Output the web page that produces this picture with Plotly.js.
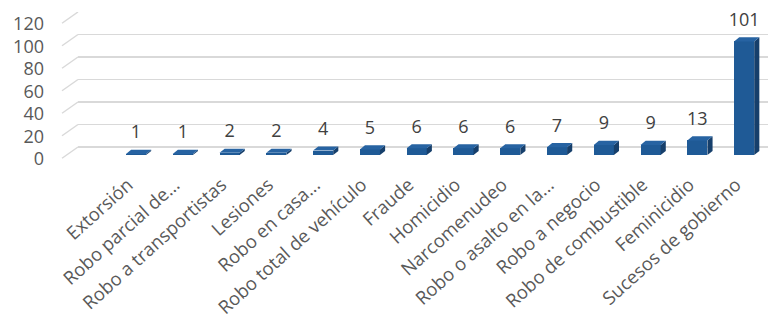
<!DOCTYPE html>
<html>
<head>
<meta charset="utf-8">
<script src="https://cdn.plot.ly/plotly-3.0.1.min.js"></script>
<style>html,body{margin:0;padding:0;background:#fff;}#chart{width:768px;height:322px;}</style>
</head>
<body>
<div id="chart"></div>
<script>
const categories = ["Extorsión","Robo parcial de...","Robo a transportistas","Lesiones","Robo en casa...","Robo total de vehículo","Fraude","Homicidio","Narcomenudeo","Robo o asalto en la...","Robo a negocio","Robo de combustible","Feminicidio","Sucesos de gobierno"];
const values = [1,1,2,2,4,5,6,6,6,7,9,9,13,101];
const yTicks = [0,20,40,60,80,100,120];

const W = 768, H = 322;
const FRONT = '#1F5A96', SIDE = '#163F6B', TOP = '#2763A2';
const GRID = '#D9D9D9';
const FONT = 'Open Sans, sans-serif';
const xs = categories.map((c, i) => i);
const bw = 0.43;          // bar width in category units
const ddx = 0.11, ddy = 3.6; // 3D depth offsets (data units)
const wallDepth = 10;     // slanted wall line drop (data units)

const shapes = [];
// slanted left-wall lines
yTicks.forEach(v => {
  shapes.push({type:'line', xref:'paper', yref:'y', x0:62/W, x1:78/W, y0:v - wallDepth, y1:v,
    line:{color:GRID, width:1.5}, layer:'below'});
});
// 3D faces of each bar
xs.forEach((x, i) => {
  const v = values[i];
  const l = x - bw/2, r = x + bw/2;
  shapes.push({type:'path', xref:'x', yref:'y2', layer:'above', line:{width:0}, fillcolor:SIDE,
    path:`M${r},0 L${r+ddx},${ddy} L${r+ddx},${v+ddy} L${r},${v} Z`});
  shapes.push({type:'path', xref:'x', yref:'y2', layer:'above', line:{width:0}, fillcolor:TOP,
    path:`M${l},${v} L${l+ddx},${v+ddy} L${r+ddx},${v+ddy} L${r},${v} Z`});
});

const traces = [
  {type:'bar', x:xs, y:values, xaxis:'x', yaxis:'y2', width:bw,
   marker:{color:FRONT, line:{width:0}}, hoverinfo:'skip'},
  {type:'scatter', mode:'markers+text', x:xs, y:values, xaxis:'x', yaxis:'y2',
   text:values.map(String), textposition:'top center',
   marker:{size:16, opacity:0}, textfont:{family:FONT, size:18, color:'#404040'},
   hoverinfo:'skip', cliponaxis:false}
];

const layout = {
  width:W, height:H, margin:{l:0, r:0, t:0, b:0},
  paper_bgcolor:'#fff', plot_bgcolor:'rgba(0,0,0,0)',
  showlegend:false, bargap:0,
  font:{family:FONT, size:18, color:'#595959'},
  xaxis:{domain:[78/W, 1], range:[-1.24, 13.51], anchor:'y',
    tickmode:'array', tickvals:xs, ticktext:categories, tickangle:-42,
    showgrid:false, zeroline:false, showline:false, ticks:'',
    ticklabelstandoff:9, ticklabelshift:-8,
    tickfont:{family:FONT, size:18.5, color:'#595959'}},
  yaxis:{domain:[1 - 160.5/H, 1 - 12/H], range:[-12, 120], anchor:'x',
    tickmode:'array', tickvals:yTicks, showticklabels:false,
    showgrid:true, gridcolor:GRID, gridwidth:1.5, zeroline:false, showline:false},
  yaxis2:{domain:[1 - 155/H, 1 - 20/H], range:[0, 120], anchor:'free',
    position:44/W, side:'left', tickmode:'array', tickvals:yTicks,
    showgrid:false, zeroline:false, showline:false, ticks:'', ticklabelshift:4,
    tickfont:{family:FONT, size:18, color:'#595959'}},
  shapes:shapes
};

Plotly.newPlot('chart', traces, layout, {staticPlot:true, displayModeBar:false});
</script>
</body>
</html>
